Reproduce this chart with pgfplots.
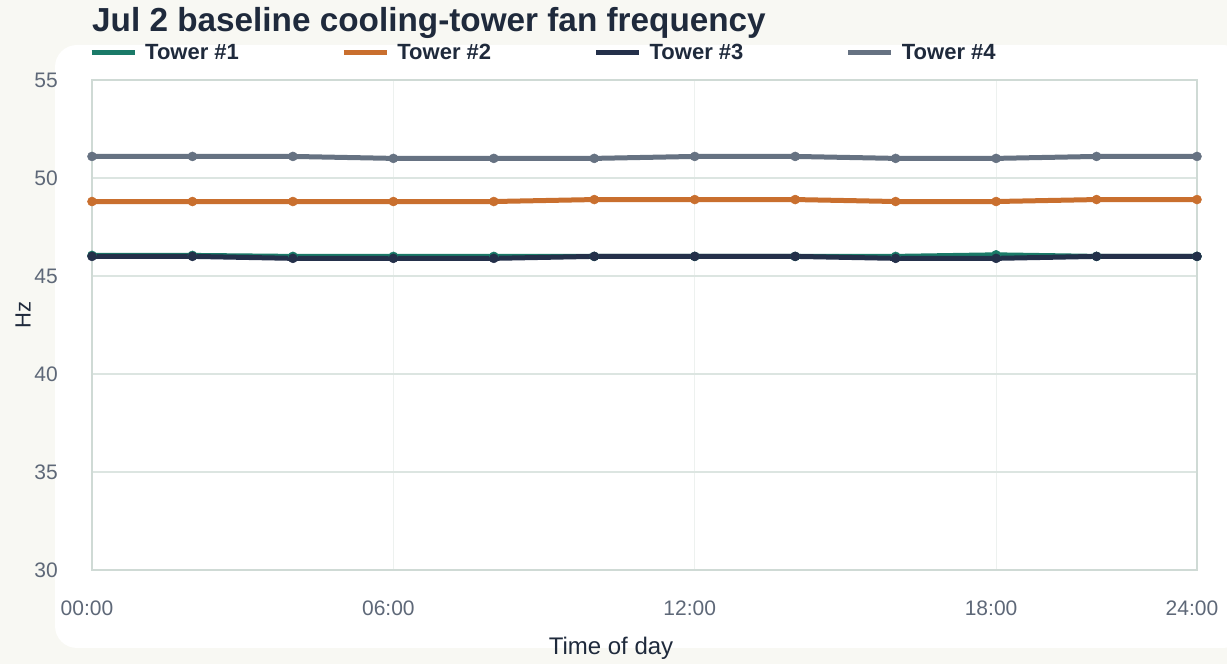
\documentclass[border=0pt]{standalone}
\usepackage{fontspec}
\setmainfont{Liberation Sans}
\usepackage{pgfplots}
\pgfplotsset{compat=1.18}
\definecolor{bgout}{HTML}{F8F8F3}
\definecolor{tone}{HTML}{1A7A68}
\definecolor{ttwo}{HTML}{C96F2E}
\definecolor{tthree}{HTML}{24304A}
\definecolor{tfour}{HTML}{667282}
\definecolor{gridc}{HTML}{DCE5E1}
\definecolor{framec}{HTML}{CFDAD5}
\definecolor{vgrid}{HTML}{EDF1EF}
\definecolor{tickc}{HTML}{5E6878}
\definecolor{titlec}{HTML}{1F2A3C}
\begin{document}
\begin{tikzpicture}
\useasboundingbox (0bp,0bp) rectangle (1227bp,664bp);
\fill[bgout] (0bp,0bp) rectangle (1227bp,664bp);
\fill[white, rounded corners=22bp] (55bp,16bp) rectangle (1245bp,619bp);
\node[anchor=base west, inner sep=0pt, font=\fontsize{33.3bp}{37bp}\selectfont\bfseries, text=titlec] at (92bp,632bp) {Jul 2 baseline cooling-tower fan frequency};
\begin{axis}[
  at={(92bp,94bp)}, anchor=south west, scale only axis,
  width=1105bp, height=490bp,
  xmin=0, xmax=11, ymin=30, ymax=55,
  xtick={0,3,6,9,11}, xticklabels={00:00,06:00,12:00,18:00,24:00},
  ytick={30,35,40,45,50,55},
  major tick length=0pt,
  axis line style={framec, line width=2bp},
  xmajorgrids, ymajorgrids,
  y grid style={gridc, line width=1.5bp},
  x grid style={vgrid, line width=1bp},
  tick label style={font=\fontsize{21bp}{24bp}\selectfont, text=tickc},
  /pgf/number format/assume math mode=true,
  yticklabel style={anchor=east, inner sep=0pt, xshift=-34bp},
  xticklabel style={anchor=north, inner sep=0pt, yshift=-31bp, xshift=-5bp},
  xlabel={Time of day},
  xlabel style={at={(axis description cs:0.4697,0)}, anchor=center, yshift=-78bp, font=\fontsize{24bp}{28bp}\selectfont, text=titlec},
  ylabel={Hz},
  ylabel style={at={(axis description cs:-0.0624,0.52)}, anchor=center, font=\fontsize{22bp}{26bp}\selectfont, text=titlec},
  legend columns=4,
  legend style={at={(axis description cs:0,1)}, anchor=south west, xshift=-3bp, yshift=19bp, draw=none, fill=none, inner sep=0pt,
    font=\fontsize{22bp}{25bp}\selectfont\bfseries, text=titlec, nodes={inner sep=0pt},
    /tikz/every odd column/.append style={column sep=8bp},
    /tikz/every even column/.append style={column sep=102.5bp}},
  legend image code/.code={\draw[#1, line width=5bp] (0bp,0bp) -- (43bp,0bp);},
  every axis plot/.append style={line width=5bp, mark=*, mark size=4.5bp, mark options={line width=0.5bp}},
]
\addplot[color=tone] coordinates {(0,46.05)(1,46.05)(2,46.0)(3,46.0)(4,46.0)(5,46.0)(6,46.0)(7,46.0)(8,46.0)(9,46.08)(10,46.0)(11,46.0)};
\addlegendentry{Tower \#1}
\addplot[color=ttwo] coordinates {(0,48.8)(1,48.8)(2,48.8)(3,48.8)(4,48.8)(5,48.9)(6,48.9)(7,48.9)(8,48.8)(9,48.8)(10,48.9)(11,48.9)};
\addlegendentry{Tower \#2}
\addplot[color=tthree] coordinates {(0,46.0)(1,46.0)(2,45.9)(3,45.9)(4,45.9)(5,46.0)(6,46.0)(7,46.0)(8,45.9)(9,45.9)(10,46.0)(11,46.0)};
\addlegendentry{Tower \#3}
\addplot[color=tfour] coordinates {(0,51.1)(1,51.1)(2,51.1)(3,51.0)(4,51.0)(5,51.0)(6,51.1)(7,51.1)(8,51.0)(9,51.0)(10,51.1)(11,51.1)};
\addlegendentry{Tower \#4}
\end{axis}
\end{tikzpicture}
\end{document}
